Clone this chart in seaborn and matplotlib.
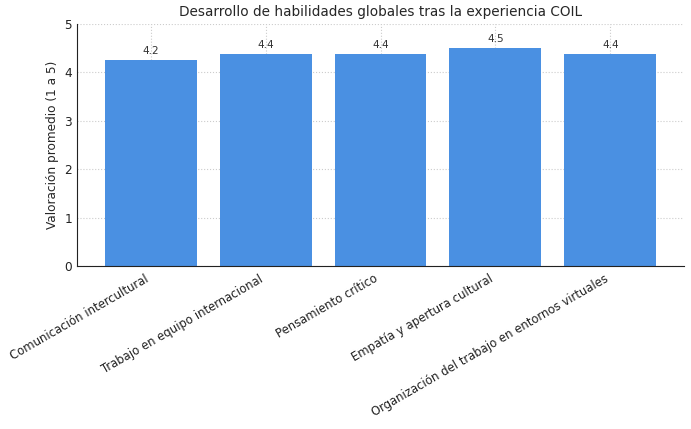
import matplotlib
matplotlib.use("Agg")
import matplotlib.pyplot as plt
import seaborn as sns
import pandas as pd

categories = [
    "Comunicación intercultural",
    "Trabajo en equipo internacional",
    "Pensamiento crítico",
    "Empatía y apertura cultural",
    "Organización del trabajo en entornos virtuales",
]
values = [4.25, 4.375, 4.375, 4.5, 4.375]

df = pd.DataFrame({"Habilidad": categories, "Valor": values})

sns.set_style("white")
plt.rcParams["font.family"] = ["DejaVu Sans"]

fig = plt.figure(figsize=(6.91, 4.29), dpi=100)
ax = fig.add_axes([77 / 691, 1 - 266 / 429, (684 - 77) / 691, (266 - 24) / 429])

sns.barplot(data=df, x="Habilidad", y="Valor", color="#4a90e2", saturation=1,
            width=0.8, ax=ax, zorder=2)
for p in ax.patches:
    p.set_edgecolor("none")

for i, v in enumerate(values):
    ax.text(i, v + 0.09, f"{v:.1f}", ha="center", va="bottom", fontsize=7.5, color="#333333")

ax.set_xlim(-0.64, len(categories) - 1 + 0.64)
ax.set_ylim(0, 5)
ax.set_title("Desarrollo de habilidades globales tras la experiencia COIL", fontsize=9.8, color="#262626", pad=6)
ax.set_ylabel("Valoración promedio (1 a 5)", fontsize=8.7, color="#262626")
ax.set_xlabel("")
ax.grid(True, linestyle=":", color="#cccccc", linewidth=0.8, zorder=0)
ax.set_axisbelow(True)
for s in ["top", "right"]:
    ax.spines[s].set_visible(False)
ax.spines["left"].set_color("#222222")
ax.spines["bottom"].set_color("#222222")
ax.tick_params(axis="y", direction="in", length=3.5, labelsize=8.7, colors="#222222", labelcolor="#222222")
ax.tick_params(axis="x", direction="in", length=3.5, labelsize=8.4, colors="#222222", labelcolor="#222222", pad=4.5)
plt.setp(ax.get_xticklabels(), rotation=30, ha="right")

fig.savefig("out.png", dpi=100)
